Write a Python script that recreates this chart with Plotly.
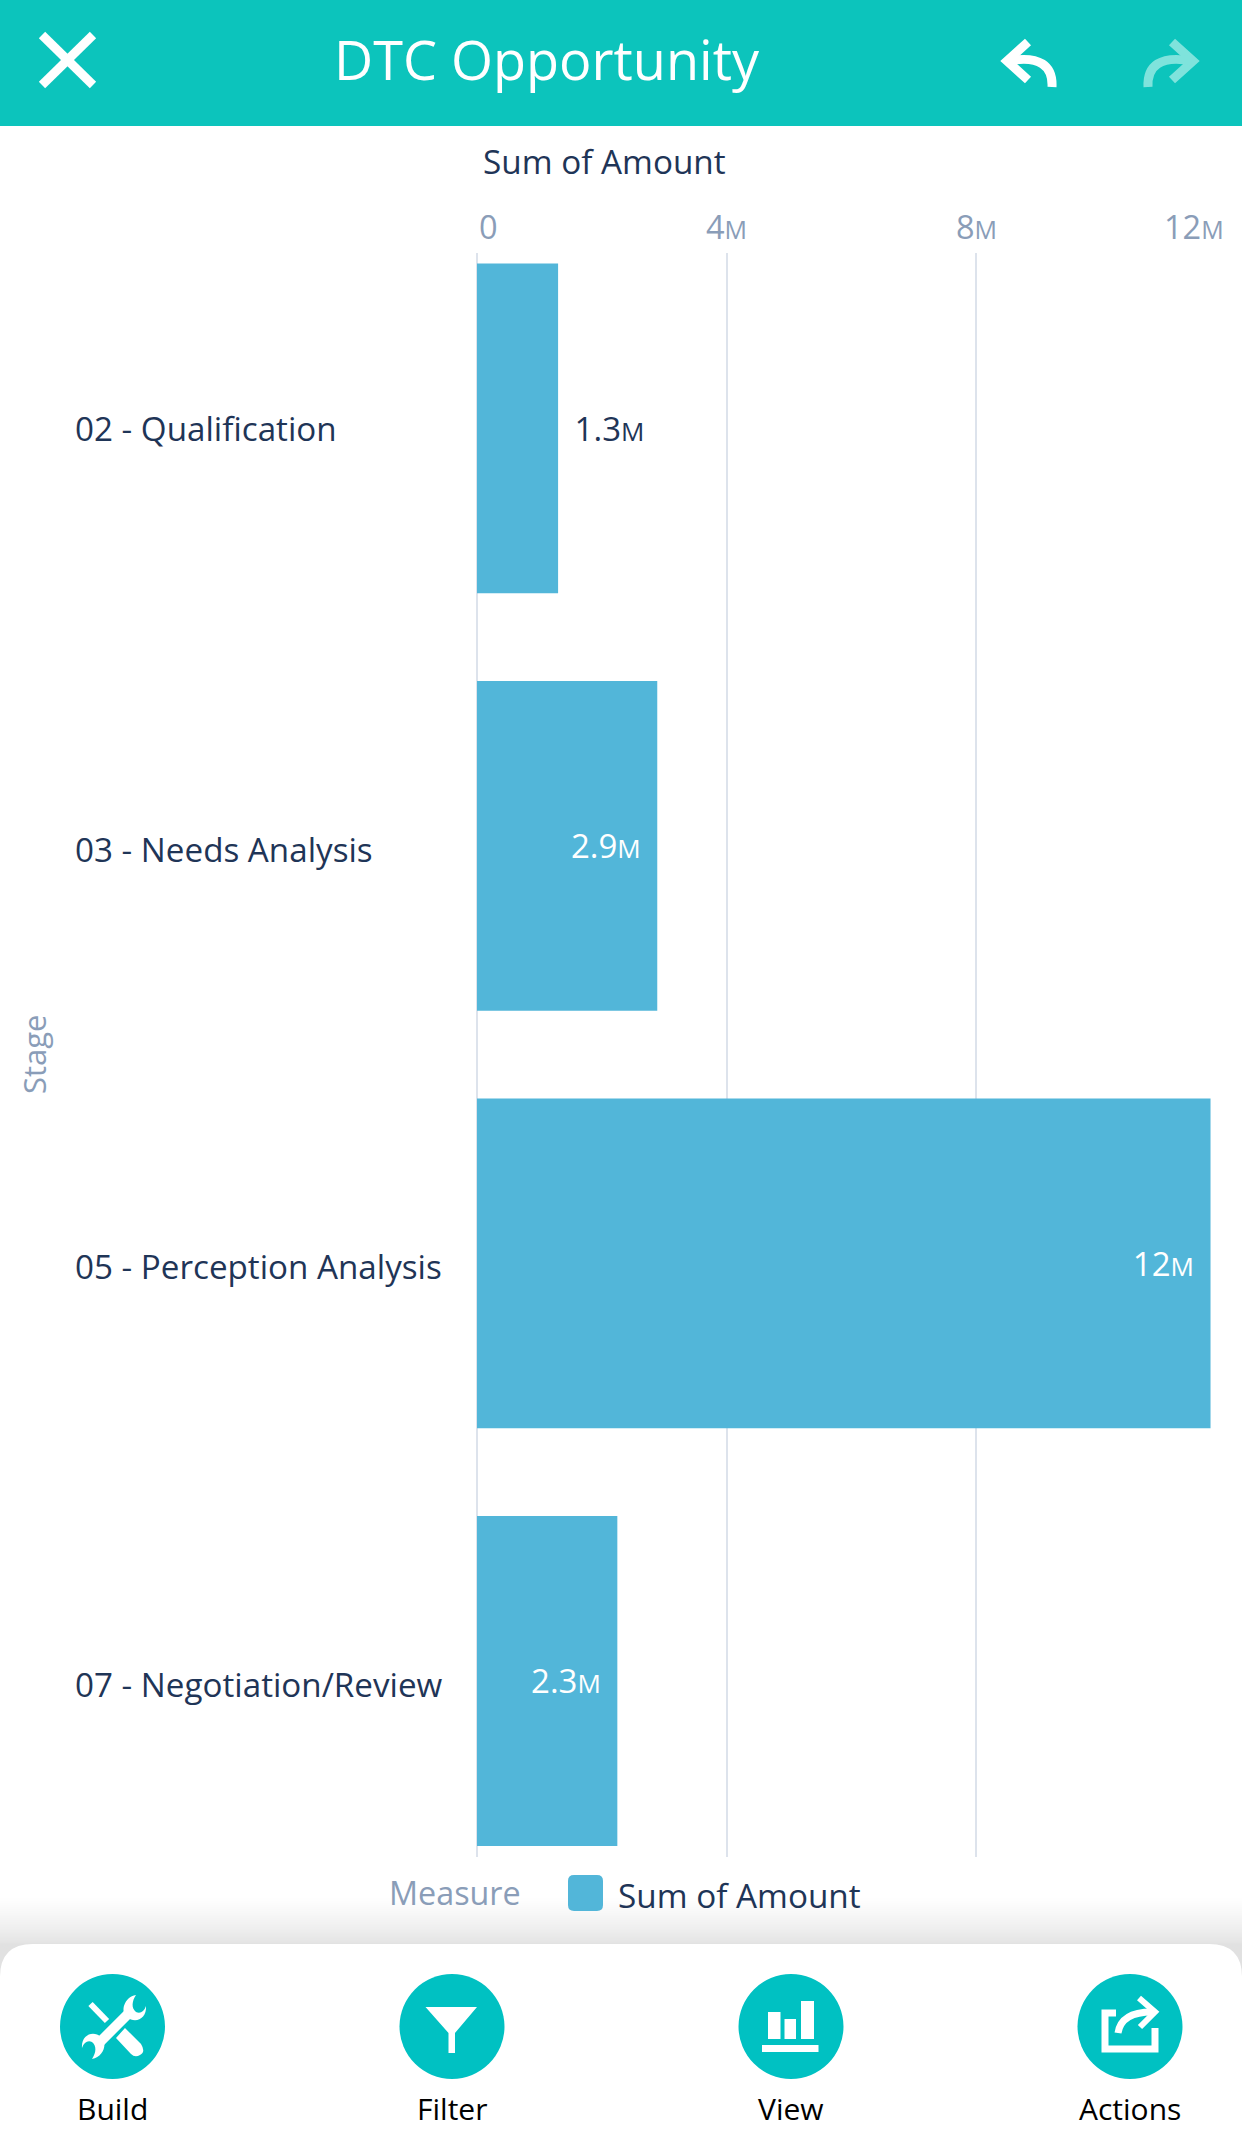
import plotly.graph_objects as go

W, H = 1242, 2149
stages = ["02 - Qualification", "03 - Needs Analysis", "05 - Perception Analysis", "07 - Negotiation/Review"]
amounts = [1.3, 2.89, 11.76, 2.25]
bar_labels = ["1.3", "2.9", "12", "2.3"]
label_positions = ["outside", "inside", "inside", "inside"]
stage_label_shift = [0, -4, -3, -4]
tick_values = [0, 4, 8, 12]
tick_numbers = ["0", "4", "8", "12"]
tick_anchors = ["left", "center", "center", "right"]
actions = ["Build", "Filter", "View", "Actions"]

FONT = "Open Sans"
DARK = "#1F3557"
GREY = "#8A9DB8"
BLUE = "#52B6D9"
TEAL = "#0CC4BC"
ROUND = "#00C1C2"

def X(p): return p / W
def Y(p): return 1 - p / H
def M(txt, size): return f"{txt}<span style='font-size:{size}px'>M</span>"
def path(*parts):
    out = []
    for p in parts:
        if isinstance(p, str):
            out.append(p)
        else:
            out.append(f"{X(p[0]):.5f} {Y(p[1]):.5f}")
    return " ".join(out)

shapes = []
def add_rect(x0, y0, x1, y1, color, layer="above"):
    shapes.append(dict(type="rect", xref="paper", yref="paper", x0=X(x0), x1=X(x1), y0=Y(y0), y1=Y(y1),
                       fillcolor=color, line_width=0, layer=layer))
def add_path(d, fill=None, stroke=None, width=0):
    s = dict(type="path", xref="paper", yref="paper", path=d, layer="above")
    s["fillcolor"] = fill if fill else "rgba(0,0,0,0)"
    s["line"] = dict(color=stroke, width=width) if stroke else dict(width=0)
    shapes.append(s)

# header
add_rect(0, 0, W, 126, TEAL)
add_path(path("M", (42, 35), "L", (93, 85)), stroke="white", width=9)
add_path(path("M", (93, 35), "L", (42, 85)), stroke="white", width=9)
for col, sgn, x0 in (("white", 1, 1004), ("#7FE3DC", -1, 1196)):
    add_path(path("M", (x0 + sgn * 24, 42), "L", (x0 + sgn * 3, 61), "L", (x0 + sgn * 24, 80)), stroke=col, width=9)
    add_path(path("M", (x0 + sgn * 4, 61), "C", (x0 + sgn * 36, 55), (x0 + sgn * 49, 66), (x0 + sgn * 48, 87)), stroke=col, width=9)

# bottom panel shadow and panel
N = 30
for i in range(N):
    add_rect(0, 1944 - 46 * (1 - i / N) ** 1.4, W, 1977, "rgba(0,0,0,0.0038)")
add_path(path("M", (0, H), "L", (0, 1977), "Q", (0, 1944), (33, 1944), "L", (W - 33, 1944), "Q", (W, 1944), (W, 1977), "L", (W, H), "Z"), fill="white")

# action circles
centers = [112.5, 452, 791, 1130]
for c in centers:
    shapes.append(dict(type="circle", xref="paper", yref="paper", x0=X(c - 52.5), x1=X(c + 52.5), y0=Y(2026.5 + 52.5), y1=Y(2026.5 - 52.5),
                       fillcolor=ROUND, line_width=0, layer="above"))
# build icon
add_path(path("M", (90.5, 2004), "L", (107, 2021)), stroke="white", width=6)
add_path(path("M", (116, 2038), "L", (125, 2028), "L", (141, 2044), "Q", (146, 2052), (140, 2055), "Q", (135, 2058), (131, 2054), "Z"), fill="white")
add_path(path("M", (97, 2045), "L", (130, 2012)), stroke="white", width=10)
add_path(path("M", (136, 1995), "C", (124, 1997), (120, 2012), (127, 2017), "C", (135, 2024), (147, 2019), (146, 2006),
              "C", (144, 2012), (140, 2014), (136, 2012), "C", (131, 2008), (132, 2001), (136, 1995), "Z"), fill="white")
add_path(path("M", (92, 2059), "C", (104, 2057), (108, 2042), (101, 2037), "C", (93, 2030), (81, 2035), (82, 2048),
              "C", (84, 2042), (88, 2040), (92, 2042), "C", (97, 2046), (96, 2053), (92, 2059), "Z"), fill="white")
# filter icon
add_path(path("M", (425.5, 2007), "L", (477, 2007), "L", (455, 2033), "L", (455, 2053), "L", (448.5, 2053), "L", (448.5, 2033), "Z"), fill="white")
# view icon
for a, b, top in ((768, 780.5, 2012), (784.5, 796, 2019), (801, 814, 2001)):
    add_rect(a, top, b, 2039, "white")
add_rect(762, 2045, 818.5, 2052, "white")
# share icon
add_path(path("M", (1116, 2013), "L", (1105, 2013), "L", (1105, 2049), "L", (1155, 2049), "L", (1155, 2028)), stroke="white", width=7)
add_path(path("M", (1139, 1998), "L", (1155, 2012), "L", (1140, 2027)), stroke="white", width=6)
add_path(path("M", (1118, 2033), "C", (1120, 2020), (1130, 2012), (1152, 2012)), stroke="white", width=7)

# legend swatch
add_path(path("M", (574, 1875), "L", (597, 1875), "Q", (603, 1875), (603, 1881), "L", (603, 1905), "Q", (603, 1911), (597, 1911),
              "L", (574, 1911), "Q", (568, 1911), (568, 1905), "L", (568, 1881), "Q", (568, 1875), (574, 1875), "Z"), fill=BLUE)

annotations = []
def note(text, x, y, size, color, anchor="center", angle=0):
    annotations.append(dict(text=text, xref="paper", yref="paper", x=X(x), y=Y(y), xanchor=anchor, yanchor="middle",
                            showarrow=False, textangle=angle, font=dict(family=FONT, size=size, color=color)))

note("DTC Opportunity", 547, 59, 54, "white")
note("Sum of Amount", 604, 161, 33.3, DARK)
note("Stage", 34, 1054, 31, GREY, angle=-90)
note("Measure", 455, 1892, 32.3, GREY)
note("Sum of Amount", 739, 1895, 33.3, DARK)
for s, yv, shift in zip(stages, range(len(stages)), stage_label_shift):
    annotations.append(dict(text=s, xref="paper", yref="y", x=X(73), y=yv, yshift=shift, xanchor="left", yanchor="middle", showarrow=False,
                            font=dict(family=FONT, size=33.2, color=DARK)))
for v, t, anc in zip(tick_values, tick_numbers, tick_anchors):
    annotations.append(dict(text=M(t, 25) if v else t, xref="x", yref="paper", x=v, y=Y(226.5), xanchor=anc, yanchor="middle",
                            showarrow=False, font=dict(family=FONT, size=32.5, color=GREY)))
for a, c in zip(actions, centers):
    note(a, c, 2108, 30, "black")

PAD = "<span style='font-size:26px'>\u00a0\u00a0</span>"
texts = []
for lab, pos in zip(bar_labels, label_positions):
    t = M(lab, 26)
    texts.append(PAD + t if pos == "outside" else t + PAD)

fig = go.Figure(go.Bar(
    x=amounts, y=stages, orientation="h", name="Sum of Amount", marker=dict(color=BLUE, line_width=0),
    text=texts, textposition=label_positions, insidetextanchor="end", constraintext="none", textangle=0,
    insidetextfont=dict(family=FONT, size=33, color="white"),
    outsidetextfont=dict(family=FONT, size=33, color=DARK),
    cliponaxis=False, hoverinfo="skip", width=0.79, showlegend=False))

fig.update_layout(
    width=W, height=H, margin=dict(l=0, r=0, t=0, b=0), paper_bgcolor="white", plot_bgcolor="white",
    showlegend=False, shapes=shapes, annotations=annotations, bargap=0.21,
    xaxis=dict(domain=[X(477), X(1225.5)], range=[0, 12], side="top", tickvals=tick_values, showticklabels=False,
               showgrid=True, gridcolor="#DDE3EC", gridwidth=2, zeroline=True, zerolinecolor="#DDE3EC", zerolinewidth=2,
               ticks="", anchor="y", fixedrange=True),
    yaxis=dict(domain=[Y(1857), Y(253)], range=[3.4216, -0.42], type="category", categoryorder="array", categoryarray=stages,
               showticklabels=False, showgrid=False, zeroline=False, ticks="", fixedrange=True),
)
fig.write_html("out.html", config=dict(displayModeBar=False),
               post_script="document.body.style.margin='0';document.documentElement.style.overflow='hidden';")
